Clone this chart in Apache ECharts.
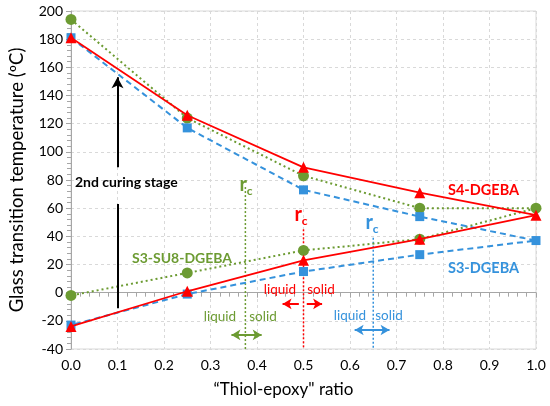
<!DOCTYPE html>
<html>
<head>
<meta charset="utf-8">
<script src="https://cdn.jsdelivr.net/npm/echarts@6/dist/echarts.min.js"></script>
<style>
  html, body { margin: 0; padding: 0; background: #fff; }
  #chart { width: 550px; height: 406px; }
</style>
</head>
<body>
<div id="chart"></div>
<script>
// ratio values (x)
var ratios = [0, 0.25, 0.5, 0.75, 1.0];
// upper / lower branches of each system (Tg, ºC)
var s4Upper = [181, 126, 89, 71, 55];
var s4Lower = [-24, 1, 23, 38, 55];
var s3Upper = [181, 117, 73, 54, 37];
var s3Lower = [-23, -1, 15, 27, 37];
var su8Upper = [194, 124, 83, 60, 60];
var su8Lower = [-2, 14, 30, 38, 60];
// critical ratio lines: [x, top of line]
var rcGreen = [0.375, 75];
var rcRed = [0.5, 45];
var rcBlue = [0.65, 39];
// 2nd curing stage arrow
var stageArrow = [0.1, 89, 153];
var stageLine = [0.1, 63, -11];
// liquid/solid arrows: [x1, x2, y]
var arrGreen = [0.345, 0.41, -30];
var arrRedL = [0.49, 0.455, -8];
var arrRedR = [0.507, 0.54, -8];
var arrBlue = [0.61, 0.685, -26.5];

var RED = '#ff0000', BLUE = '#3592dc', GREEN = '#6c9b32';
var FONT = 'Lato';

// upper branch left->right then lower branch right->left
function loop(up, low) {
  var d = [];
  for (var i = 0; i < ratios.length; i++) d.push([ratios[i], up[i]]);
  for (var j = ratios.length - 2; j >= 0; j--) d.push([ratios[j], low[j]]);
  return d;
}

function vline(rc, color) {
  return {
    type: 'line', data: [[rc[0], rc[1]], [rc[0], -40]], symbol: 'none', silent: true,
    lineStyle: { color: color, width: 1.5, type: [2, 2] }, z: 1
  };
}

function arrows(list, color, both) {
  return {
    type: 'line', data: [], silent: true,
    markLine: {
      silent: true, symbol: both ? ['arrow', 'arrow'] : ['none', 'arrow'], symbolSize: [8, 9],
      label: { show: false },
      lineStyle: { color: color, width: 2, type: 'solid' },
      data: list.map(function (a) { return [{ coord: [a[0], a[2]] }, { coord: [a[1], a[2]] }]; })
    }
  };
}

function txt(x, y, s, color, size, bold, align) {
  return {
    type: 'text', x: x, y: y, z: 100,
    style: { text: s, fill: color, font: (bold ? 'bold ' : '') + size + 'px ' + FONT, textAlign: align || 'center', textVerticalAlign: 'middle' }
  };
}

function rcLabel(x, y, color) {
  return {
    type: 'text', x: x, y: y, z: 100,
    style: {
      text: '{r|r}{c|c}', textAlign: 'center', textVerticalAlign: 'middle',
      rich: {
        r: { fill: color, fontSize: 20, fontFamily: FONT, fontWeight: 'bold' },
        c: { fill: color, fontSize: 12, fontFamily: FONT, fontWeight: 'bold', padding: [12, 0, 0, 0] }
      }
    }
  };
}

var axisGray = '#a6a6a6';
var option = {
  animation: false,
  grid: { left: 69, right: 14, top: 11, bottom: 57, show: true, borderColor: '#d9d9d9', borderWidth: 1 },
  xAxis: {
    type: 'value', min: 0, max: 1, interval: 0.1,
    name: '\u201cThiol-epoxy" ratio', nameLocation: 'middle', nameGap: 32,
    nameTextStyle: { fontFamily: FONT, fontSize: 17, color: '#000', padding: [0, 40, 0, 0] },
    axisLine: { lineStyle: { color: axisGray } },
    axisTick: { show: true, length: 5, lineStyle: { color: axisGray } },
    minorTick: { show: true, splitNumber: 5, length: 4, lineStyle: { color: axisGray } },
    axisLabel: { fontFamily: FONT, fontSize: 14, color: '#000', margin: 9, formatter: function (v) { return v.toFixed(1); } },
    splitLine: { show: true, lineStyle: { color: '#d9d9d9', type: [3, 3] } }
  },
  yAxis: {
    type: 'value', min: -40, max: 200, interval: 20,
    name: 'Glass transition temperature (\u00baC)', nameLocation: 'middle', nameGap: 44,
    nameTextStyle: { fontFamily: FONT, fontSize: 18.5, color: '#000' },
    axisLine: { show: true, lineStyle: { color: axisGray } },
    axisTick: { show: true, length: 5, lineStyle: { color: axisGray } },
    minorTick: { show: true, splitNumber: 5, length: 4, lineStyle: { color: axisGray } },
    axisLabel: { fontFamily: FONT, fontSize: 14, color: '#000', margin: 8 },
    splitLine: { show: true, lineStyle: { color: '#d9d9d9', type: [3, 3] } }
  },
  series: [
    vline(rcGreen, GREEN), vline(rcRed, RED), vline(rcBlue, BLUE),
    {
      name: 'S3-SU8-DGEBA', type: 'line', data: loop(su8Upper, su8Lower),
      symbol: 'circle', symbolSize: 11, itemStyle: { color: GREEN },
      lineStyle: { color: GREEN, width: 2, type: [2, 3] }, z: 3
    },
    {
      name: 'S3-DGEBA', type: 'line', data: loop(s3Upper, s3Lower),
      symbol: 'rect', symbolSize: 9, itemStyle: { color: BLUE },
      lineStyle: { color: BLUE, width: 2, type: [6, 4] }, z: 4
    },
    {
      name: 'S4-DGEBA', type: 'line', data: loop(s4Upper, s4Lower),
      symbol: 'triangle', symbolSize: 11, itemStyle: { color: RED },
      lineStyle: { color: RED, width: 1.8 }, z: 5
    },
    {
      type: 'line', data: [], silent: true,
      markLine: {
        silent: true, label: { show: false }, symbolSize: [9, 11],
        lineStyle: { color: '#000', width: 2, type: 'solid' },
        data: [
          [{ coord: [stageArrow[0], stageArrow[1]], symbol: 'none' }, { coord: [stageArrow[0], stageArrow[2]], symbol: 'arrow' }],
          [{ coord: [stageLine[0], stageLine[1]], symbol: 'none' }, { coord: [stageLine[0], stageLine[2]], symbol: 'none' }]
        ]
      }
    },
    arrows([arrGreen], GREEN, true),
    arrows([arrRedL, arrRedR], RED, false),
    arrows([arrBlue], BLUE, true)
  ],
  graphic: [
    txt(75, 182, '2nd curing stage', '#000', 14, true, 'left'),
    txt(448, 190, 'S4-DGEBA', RED, 14.5, true, 'left'),
    txt(448, 268, 'S3-DGEBA', BLUE, 14.5, true, 'left'),
    txt(132, 258, 'S3-SU8-DGEBA', GREEN, 14, true, 'left'),
    rcLabel(246, 185, GREEN),
    rcLabel(301, 215, RED),
    rcLabel(372, 223, BLUE),
    txt(220, 317, 'liquid', GREEN, 13.5, false),
    txt(263, 317, 'solid', GREEN, 13.5, false),
    txt(280, 290, 'liquid', RED, 13.5, false),
    txt(321, 290, 'solid', RED, 13.5, false),
    txt(350, 316, 'liquid', BLUE, 13.5, false),
    txt(389, 316, 'solid', BLUE, 13.5, false)
  ]
};

var myChart = echarts.init(document.getElementById('chart'));
myChart.setOption(option);
</script>
</body>
</html>
